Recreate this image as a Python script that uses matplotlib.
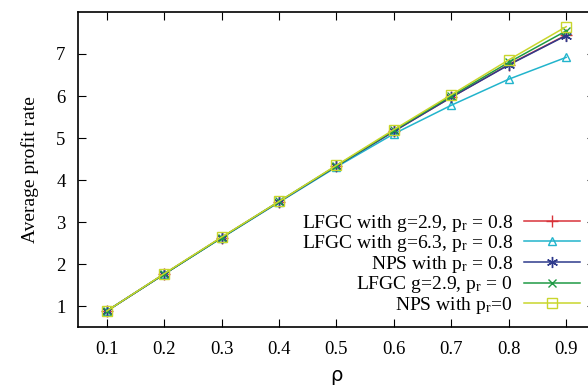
import matplotlib
matplotlib.use("Agg")
import matplotlib.pyplot as plt

plt.rcParams['font.family'] = ['Liberation Serif', 'DejaVu Serif']
plt.rcParams['mathtext.fontset'] = 'stix'

# data
rho = [0.1, 0.2, 0.3, 0.4, 0.5, 0.6, 0.7, 0.8, 0.9]
lfgc_29_08 = [0.88, 1.76, 2.63, 3.48, 4.33, 5.16, 5.97, 6.75, 7.45]
lfgc_63_08 = [0.88, 1.76, 2.62, 3.47, 4.31, 5.10, 5.78, 6.40, 6.92]
nps_08 = [0.88, 1.76, 2.63, 3.48, 4.33, 5.16, 5.97, 6.74, 7.44]
lfgc_29_0 = [0.88, 1.76, 2.63, 3.49, 4.34, 5.18, 6.00, 6.80, 7.55]
nps_0 = [0.88, 1.77, 2.64, 3.49, 4.35, 5.20, 6.03, 6.86, 7.65]

labels = ["LFGC with g=2.9, p$_\\mathregular{r}$ = 0.8",
          "LFGC with g=6.3, p$_\\mathregular{r}$ = 0.8",
          "NPS with p$_\\mathregular{r}$ = 0.8",
          "LFGC g=2.9, p$_\\mathregular{r}$ = 0",
          "NPS with p$_\\mathregular{r}$=0"]

fig = plt.figure(figsize=(5.88, 3.87), dpi=100)
ax = fig.add_axes([0.1327, 0.155, 0.879, 0.814])

ax.plot(rho, lfgc_29_08, color='#d8333a', marker='+', ms=8, lw=1.1, label=labels[0])
ax.plot(rho, lfgc_63_08, color='#22b4cc', marker='^', ms=6, mfc='none', lw=1.1, label=labels[1])
ax.plot(rho, nps_08, color='#2e3a8c', marker=(6, 2, 0), ms=8, lw=1.1, label=labels[2])
ax.plot(rho, lfgc_29_0, color='#1f9a45', marker='x', ms=6, lw=1.1, label=labels[3])
ax.plot(rho, nps_0, color='#c9d62c', marker='s', ms=7, mfc='none', lw=1.1, label=labels[4])

ax.set_xlim(0.05, 0.95)
ax.set_ylim(0.5, 8)
ax.set_xticks(rho)
ax.set_xticklabels([str(r) for r in rho])
ax.set_yticks([1, 2, 3, 4, 5, 6, 7])
ax.tick_params(direction='in', top=True, right=True, length=6, labelsize=13.5)
ax.tick_params(axis='x', pad=10)
ax.tick_params(axis='y', pad=9)
for s in ax.spines.values():
    s.set_linewidth(1.2)

ax.set_ylabel("Average profit rate", fontsize=14, labelpad=12)
ax.set_xlabel("ρ", fontsize=14, family=['DejaVu Sans'], labelpad=6)

leg = ax.legend(loc='lower right', bbox_to_anchor=(0.971, 0.035), frameon=False,
                markerfirst=False, fontsize=14, handlelength=2.85, handletextpad=0.6,
                labelspacing=-0.02, borderaxespad=0, borderpad=0)

fig.savefig("out.png", dpi=100)
